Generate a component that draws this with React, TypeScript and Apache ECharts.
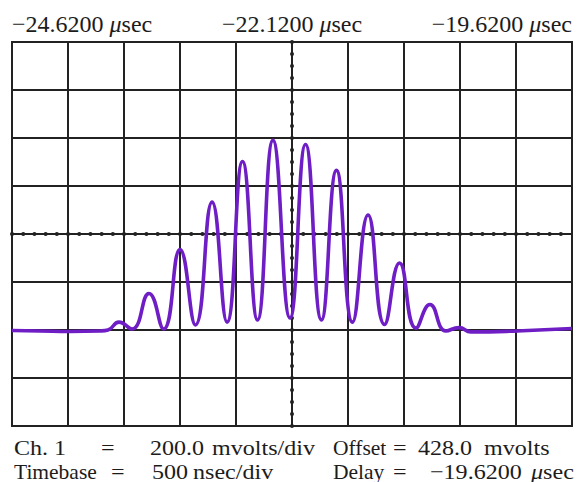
import React, { useEffect, useRef } from "react";
import * as echarts from "echarts";

// Waveform readings: time (µs) and channel 1 voltage (mV)
const TIME_US = [
  -24.62, -24.37, -24.102, -23.834, -23.763, -23.665, -23.549, -23.397, -23.267, -23.12,
  -22.982, -22.834, -22.7, -22.562, -22.428, -22.29, -22.138, -21.999, -21.857, -21.723,
  -21.58, -21.441, -21.294, -21.16, -21.013, -20.888, -20.745, -20.629, -20.522, -20.111,
  -19.62,
];
const CH1_MV = [
  26, 24, 22, 24, 28, 61, 32, 180, 32, 363,
  49, 561, 61, 730, 70, 818, 78, 801, 70, 693,
  61, 507, 51, 307, 36, 134, 24, 38, 20, 24,
  34,
];

// Scope settings
const SCREEN_CENTER_US = -22.12;
const TIME_PER_DIV_NS = 500;
const HALF_SPAN_NS = 2500;
const OFFSET_MV = 428;
const MV_PER_DIV = 200;
const HALF_SPAN_MV = 800;
const LABELED_TICKS_NS = [-2500, 0, 2500];

// Bottom read-out text, token by token
const INFO_LINE_1 = ["Ch. 1", "=", "200.0", "mvolts/div", "Offset", "=", "428.0", "mvolts"];
const INFO_LINE_2 = ["Timebase", "=", "500", "nsec/div", "Delay", "=", "\u221219.6200", "{mu|μ}sec"];

const FONT = "Liberation Serif, Times New Roman, DejaVu Serif, serif";
const INK = "#1c1c1c";
const GRID_INK = "#222222";

// layout of the read-out tokens (left x and horizontal stretch of each token)
const INFO_X_1 = [14, 101, 150, 212, 333, 393, 418, 484];
const INFO_X_2 = [14, 111, 152, 193, 333, 393, 430, 531];
const INFO_SX_1 = [1.12, 1.12, 1.12, 1.12, 1, 1.12, 1.12, 1.12];
const INFO_SX_2 = [1, 1.12, 1.12, 1.12, 1, 1.12, 1.12, 1.12];
const INFO_Y = [448, 471.5];
const INFO_SIZE = 21.5;

function fmtTime(ns: number) {
  const us = SCREEN_CENTER_US + ns / 1000;
  return us.toFixed(4).replace("-", "\u2212");
}

export default function App() {
  const ref = useRef<HTMLDivElement>(null);
  useEffect(() => {
    if (!ref.current) return;
    const chart = echarts.init(ref.current, undefined, { renderer: "svg" });
    const data = TIME_US.map((t, i) => [
      Math.round((t - SCREEN_CENTER_US) * 1000),
      CH1_MV[i] - OFFSET_MV,
    ]);
    const textEl = (x: number, y: number, text: string, sx: number) => ({
      type: "text",
      x,
      y,
      scaleX: sx,
      silent: true,
      style: {
        text,
        fontFamily: FONT,
        fontSize: INFO_SIZE,
        fill: INK,
        textAlign: "left",
        align: "left",
        textVerticalAlign: "middle",
        verticalAlign: "middle",
        rich: {
          mu: { fontFamily: FONT, fontSize: INFO_SIZE, fontStyle: "italic", fill: INK, color: INK },
        },
      },
    });
    const graphic: any[] = [];
    INFO_LINE_1.forEach((t, i) => graphic.push(textEl(INFO_X_1[i], INFO_Y[0], t, INFO_SX_1[i])));
    INFO_LINE_2.forEach((t, i) => graphic.push(textEl(INFO_X_2[i], INFO_Y[1], t, INFO_SX_2[i])));

    const hidden = {
      axisTick: { show: false },
      axisLabel: { show: false },
      splitLine: { show: false },
    };
    // center graticule lines, drawn as axis lines moved into the middle of the grid
    const centerX = (width: number, type: any, cap = "butt") => ({
      type: "value",
      position: "bottom",
      offset: -192,
      min: -HALF_SPAN_NS,
      max: HALF_SPAN_NS,
      interval: TIME_PER_DIV_NS,
      ...hidden,
      axisLine: { show: true, onZero: false, lineStyle: { color: GRID_INK, width, type, cap } },
    });
    const centerY = (width: number, type: any, cap = "butt") => ({
      type: "value",
      position: "left",
      offset: -280,
      min: -HALF_SPAN_MV,
      max: HALF_SPAN_MV,
      interval: MV_PER_DIV,
      ...hidden,
      axisLine: { show: true, onZero: false, lineStyle: { color: GRID_INK, width, type, cap } },
    });

    chart.setOption({
      animation: false,
      backgroundColor: "#ffffff",
      grid: {
        left: 12,
        top: 42,
        width: 560,
        height: 384,
        show: true,
        borderColor: GRID_INK,
        borderWidth: 2,
        outerBoundsMode: "none",
      },
      xAxis: [
        {
          type: "value",
          position: "top",
          min: -HALF_SPAN_NS,
          max: HALF_SPAN_NS,
          interval: TIME_PER_DIV_NS,
          axisLine: { show: false, onZero: false },
          axisTick: { show: false },
          splitLine: { show: true, lineStyle: { color: GRID_INK, width: 2 } },
          axisLabel: {
            show: true,
            margin: 6,
            showMinLabel: true,
            showMaxLabel: true,
            hideOverlap: false,
            alignMinLabel: "left",
            alignMaxLabel: "right",
            formatter: (v: number) =>
              LABELED_TICKS_NS.includes(Math.round(v)) ? `{n|${fmtTime(v)}}{gap|}{mu|μ}{n|sec}` : "",
            rich: {
              n: { fontFamily: FONT, fontSize: 24, color: INK },
              gap: { width: 6 },
              mu: { fontFamily: FONT, fontSize: 24, fontStyle: "italic", color: INK },
            },
          },
        },
        centerX(1, "solid"),
        centerX(4, [0.1, 11.1], "round"),
      ],
      yAxis: [
        {
          type: "value",
          min: -HALF_SPAN_MV,
          max: HALF_SPAN_MV,
          interval: MV_PER_DIV,
          axisLine: { show: false, onZero: false },
          axisTick: { show: false },
          axisLabel: { show: false },
          splitLine: { show: true, lineStyle: { color: GRID_INK, width: 2 } },
        },
        centerY(1, "solid"),
        centerY(4, [0.1, 11.9], "round"),
      ],
      graphic,
      series: [
        {
          type: "line",
          data,
          xAxisIndex: 0,
          yAxisIndex: 0,
          z: 5,
          silent: true,
          showSymbol: false,
          symbol: "none",
          smooth: 0.5,
          lineStyle: { color: "#6e1ec4", width: 3.6 },
        },
      ],
    });
    return () => chart.dispose();
  }, []);
  return (
    <div
      ref={ref}
      style={{ position: "absolute", left: 0, top: 0, width: 579, height: 482, background: "#fff" }}
    />
  );
}
